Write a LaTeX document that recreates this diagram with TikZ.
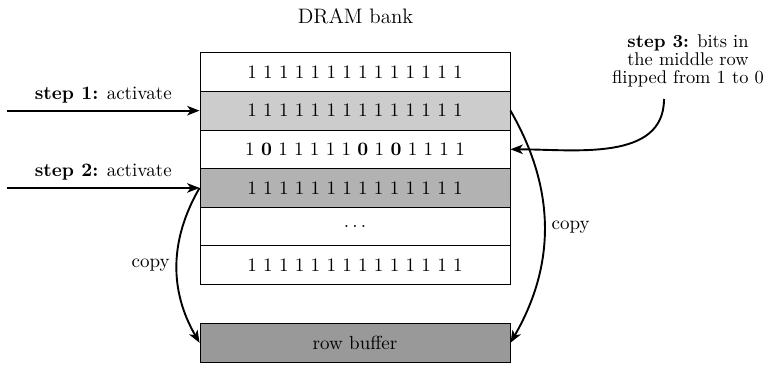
\documentclass[tikz,border=0pt]{standalone}
\usetikzlibrary{arrows.meta}
\newcommand{\tightlines}{\fontsize{9.7}{9.5}\selectfont}
\begin{document}
\begin{tikzpicture}[x=0.5263pt,y=0.5263pt,
  rowbox/.style={draw, line width=0.5pt, minimum width=163.15pt, minimum height=20.34pt, inner sep=0pt},
  arr/.style={-{Stealth[length=6.5pt,width=5pt,inset=1.8pt]}, line width=1pt},
  lbl/.style={font=\normalsize}]
\useasboundingbox (0,0) rectangle (766,-364);
% title
\node[anchor=base, font=\fontsize{11}{13}\selectfont, inner sep=0pt] (title) at (355.5,-23) {DRAM bank};
% rows
\node[rowbox] (r1) at (355,-72) {1 1 1 1 1 1 1 1 1 1 1 1 1 1};
\node[rowbox, fill=black!20] (r2) at (355,-110.65) {1 1 1 1 1 1 1 1 1 1 1 1 1 1};
\node[rowbox] (r3) at (355,-149.3) {1 \textbf{0} 1 1 1 1 1 \textbf{0} 1 \textbf{0} 1 1 1 1};
\node[rowbox, fill=black!30] (r4) at (355,-187.95) {1 1 1 1 1 1 1 1 1 1 1 1 1 1};
\node[rowbox] (r5) at (355,-226.6) {$\ldots$};
\node[rowbox] (r6) at (355,-265.25) {1 1 1 1 1 1 1 1 1 1 1 1 1 1};
\node[rowbox, fill=black!40] (buf) at (355,-342.8) {row buffer};
% step 1 and 2
\coordinate (s1) at (7,-110.65);
\coordinate (s2) at (7,-187.95);
\draw[arr] (s1) -- node[above, lbl] (l1) {\textbf{step 1:} activate} (r2.west);
\draw[arr] (s2) -- node[above, lbl] (l2) {\textbf{step 2:} activate} (r4.west);
% copy arrows
\draw[arr] (r4.west) to[bend right=30] node[left, lbl] (c1) {copy} (buf.west);
\draw[arr] (r2.east) to[bend left=30] node[right, lbl] (c2) {copy} (buf.east);
% step 3
\node[align=center, inner sep=0pt, font=\tightlines] (s3text) at (688,-61)
  {\textbf{step 3:} bits in\\the middle row\\flipped from 1 to 0};
\coordinate (s3) at (664,-99);
\draw[arr] (s3) to[out=-90,in=0] (r3.east);
\end{tikzpicture}
\end{document}
